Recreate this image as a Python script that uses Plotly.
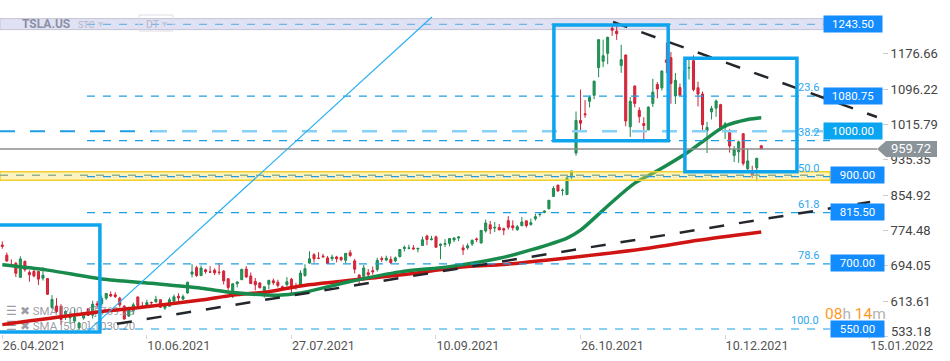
import plotly.graph_objects as go
import pandas as pd

W, H = 950, 361

# ---------------- data ----------------
holidays = ["2021-05-31", "2021-07-05", "2021-09-06", "2021-11-25"]
dates = [d for d in pd.bdate_range("2021-04-26", "2021-12-22")
         if d.strftime("%Y-%m-%d") not in holidays]

opens = [741.00, 717.96, 696.41, 699.51, 667.59,
         703.80, 678.94, 681.06, 680.76, 665.80, 664.90, 599.24, 602.49, 601.54, 583.41, 575.55, 568.00, 552.55, 575.00, 596.11, 581.60, 607.31, 607.56, 620.24, 628.50,
         627.80, 620.13, 601.80, 579.71, 591.83, 623.01, 602.17, 603.88, 610.23, 612.23, 616.69, 597.54, 601.89, 613.37, 624.48, 618.25, 632.00, 674.99, 689.58, 671.64, 684.65, 679.77,
         683.92, 678.98, 681.71, 664.27, 628.37, 653.18, 662.20, 686.32, 670.75, 658.39, 654.68, 629.89, 651.99, 659.61, 656.44, 646.36, 650.97, 663.40, 647.00, 649.79, 671.76,
         700.00, 719.00, 711.00, 716.00, 711.90, 710.17, 713.99, 712.71, 706.34, 723.71, 705.07, 672.66, 669.75, 678.21, 682.85, 685.44, 710.68, 707.03, 708.31, 705.00, 714.72, 733.00,
         734.08, 734.50, 732.25, 740.00, 761.58, 753.41, 759.60, 740.21, 742.57, 745.00, 752.83, 757.15, 734.56, 734.79, 743.53, 755.00, 745.89, 773.12, 787.20, 779.80, 781.00,
         778.40, 796.50, 784.80, 776.20, 785.46, 796.21, 787.65, 800.93, 810.47, 815.49, 823.73, 851.77, 877.53, 865.35, 856.00, 895.50, 950.53, 1024.69, 1039.66, 1068.31, 1081.86,
         1145.00, 1159.36, 1177.33, 1234.41, 1228.00, 1149.79, 1173.60, 1010.41, 1102.77, 1047.50, 1017.63, 1003.31, 1063.51, 1106.55, 1098.87, 1162.33, 1167.51, 1080.39, 1099.47, 1100.99, 1144.37,
         1160.70, 1099.06, 1084.79, 1001.51, 1044.20, 1052.71, 1060.64, 1008.75, 1001.09, 945.00, 953.21, 994.50, 914.77, 910.70, 916.87, 967.00]
highs = [749.30, 724.00, 708.50, 702.25, 715.47,
         706.00, 683.45, 685.30, 681.02, 690.00, 665.05, 627.10, 620.41, 606.46, 592.87, 589.73, 596.25, 566.21, 588.85, 596.68, 614.48, 613.99, 626.17, 631.13, 635.59,
         633.80, 623.36, 604.55, 600.61, 610.00, 623.09, 611.79, 616.59, 612.56, 625.49, 616.79, 608.50, 621.47, 628.35, 631.39, 628.57, 657.20, 697.62, 693.81, 694.70, 687.51, 692.81,
         687.99, 700.00, 684.00, 665.70, 654.43, 658.91, 687.24, 693.28, 678.61, 666.14, 656.70, 647.20, 662.39, 664.86, 662.17, 648.80, 668.20, 666.50, 654.97, 683.69, 697.53,
         726.94, 722.65, 724.90, 720.95, 716.33, 719.03, 716.59, 715.18, 722.80, 729.90, 709.50, 674.58, 695.77, 686.55, 692.13, 712.13, 715.22, 716.97, 715.40, 715.00, 731.00, 740.39,
         741.99, 740.97, 734.00, 760.20, 764.45, 762.10, 762.61, 744.78, 754.47, 756.86, 758.91, 761.04, 742.00, 744.74, 753.67, 758.20, 774.80, 799.00, 795.64, 793.50, 789.13,
         780.78, 806.97, 797.31, 786.66, 805.00, 796.38, 801.24, 812.32, 815.41, 820.25, 843.21, 875.00, 877.95, 869.49, 900.00, 910.00, 1045.02, 1094.94, 1070.88, 1081.00, 1115.21,
         1208.59, 1208.59, 1215.39, 1243.49, 1239.87, 1197.00, 1174.50, 1078.10, 1104.97, 1054.50, 1031.98, 1057.20, 1119.64, 1112.00, 1138.72, 1201.95, 1180.50, 1132.77, 1108.78, 1142.67, 1168.00,
         1172.84, 1113.00, 1090.58, 1021.64, 1057.67, 1072.38, 1062.49, 1020.98, 1005.00, 966.41, 978.75, 994.98, 960.66, 921.69, 939.50, 968.00]
lows = [732.61, 703.35, 693.60, 668.50, 666.14,
        680.50, 657.70, 667.34, 650.00, 660.22, 627.61, 595.60, 586.77, 559.65, 570.46, 561.20, 563.38, 546.98, 571.07, 580.00, 573.65, 595.71, 601.50, 616.21, 622.38,
        620.55, 599.14, 571.22, 577.20, 582.88, 595.50, 597.63, 600.50, 601.52, 609.18, 598.23, 593.50, 601.34, 611.80, 608.88, 615.50, 630.04, 667.61, 668.70, 670.32, 675.89, 678.14,
        672.80, 673.26, 651.40, 638.32, 620.46, 644.69, 662.16, 666.30, 652.84, 637.88, 642.20, 621.29, 640.50, 650.29, 644.60, 637.30, 647.11, 627.24, 639.40, 648.80, 669.00,
        698.40, 701.01, 708.93, 711.41, 697.63, 705.13, 701.88, 704.21, 699.40, 714.34, 676.40, 648.84, 669.35, 667.59, 673.70, 680.75, 702.64, 704.00, 697.62, 702.10, 712.73, 726.44,
        731.27, 730.54, 724.20, 739.26, 740.77, 751.63, 734.52, 708.85, 736.40, 738.36, 747.61, 750.00, 718.62, 730.44, 739.12, 747.92, 744.56, 769.31, 766.18, 770.68, 775.00,
        763.59, 776.12, 774.20, 773.22, 783.38, 780.91, 785.50, 796.57, 805.78, 813.35, 822.35, 851.47, 862.51, 853.72, 855.50, 890.96, 944.20, 1001.44, 1030.78, 1054.20, 1073.21,
        1123.02, 1146.00, 1152.62, 1217.00, 1208.00, 1133.00, 1011.52, 987.31, 1054.68, 1019.20, 978.60, 1002.18, 1055.50, 1075.02, 1092.70, 1132.43, 1062.70, 1062.00, 1081.00, 1100.19, 1118.00,
        1090.76, 1056.65, 1000.21, 950.50, 1026.81, 1033.00, 1002.36, 982.53, 951.42, 930.00, 928.25, 921.85, 909.04, 893.39, 886.12, 959.00]
closes = [738.20, 704.74, 694.40, 677.00, 709.44,
          684.90, 673.60, 670.94, 663.54, 672.37, 629.04, 617.20, 589.89, 571.69, 589.74, 576.83, 577.87, 563.46, 586.78, 580.88, 606.44, 604.69, 619.13, 630.85, 625.22,
          623.90, 605.12, 572.84, 599.05, 605.13, 603.59, 598.78, 610.12, 609.89, 617.69, 599.36, 604.87, 616.60, 623.31, 620.83, 623.71, 656.57, 679.82, 671.87, 688.72, 680.76, 679.70,
          677.92, 678.90, 659.58, 644.65, 652.81, 656.95, 685.70, 668.54, 653.38, 650.60, 644.22, 646.22, 660.50, 655.29, 649.26, 643.38, 657.62, 644.78, 646.98, 677.35, 687.20,
          709.67, 709.74, 710.92, 714.63, 699.10, 713.76, 709.99, 707.82, 722.25, 717.17, 686.17, 665.71, 688.99, 673.47, 680.26, 706.30, 708.49, 711.20, 701.16, 711.92, 730.91, 735.72,
          734.09, 732.39, 733.57, 752.92, 753.87, 754.86, 736.27, 743.00, 744.49, 755.83, 756.99, 759.49, 730.17, 739.38, 751.94, 753.64, 774.39, 791.36, 777.56, 781.31, 775.48,
          775.22, 781.53, 780.59, 782.75, 793.61, 785.49, 791.94, 805.72, 811.08, 818.32, 843.03, 870.11, 864.27, 865.80, 894.00, 909.68, 1024.86, 1018.43, 1037.86, 1077.04, 1114.00,
          1208.59, 1172.00, 1213.86, 1229.91, 1222.09, 1162.94, 1023.50, 1067.95, 1063.51, 1033.42, 1013.39, 1054.73, 1089.01, 1096.38, 1137.06, 1156.87, 1109.03, 1116.00, 1081.92, 1136.99, 1144.76,
          1095.00, 1084.60, 1014.97, 1009.01, 1051.75, 1068.96, 1003.80, 1017.03, 966.41, 958.51, 975.99, 926.92, 932.57, 899.94, 938.53, 959.72]

# moving averages (bar index, value)
sma50_idx = [0, 10, 22, 33, 44, 51, 61, 66, 77, 88, 99, 110, 117, 125, 128, 134, 140, 145, 152, 156, 160, 165, 168]
sma50_val = [696, 684, 664, 654, 643, 633, 627, 632, 658, 680, 692, 711, 730, 757, 775, 830, 882, 910, 954, 984, 1012, 1027, 1031]
sma200_idx = [0, 22, 29, 44, 51, 59, 66, 88, 103, 110, 117, 128, 143, 154, 168]
sma200_val = [560, 590, 597, 616, 627, 635, 648, 673, 692, 696, 703, 715, 734, 752, 771]

tick_labels = ["26.04.2021", "10.06.2021", "27.07.2021", "10.09.2021", "26.10.2021", "10.12.2021", "15.01.2022"]
tick_idx = [0, 32, 64, 96, 128, 160, 192]
ytick_vals = [533.18, 613.61, 694.05, 774.48, 854.92, 935.35, 1015.79, 1096.22, 1176.66]

last_price = 959.72
fib_high, fib_low = 1243.50, 550.00
fib_pcts = [0, 23.6, 38.2, 50.0, 61.8, 78.6, 100.0]
level_labels = [1243.50, 1080.75, 1000.00, 900.00, 815.50, 700.00, 550.00]

# drawings (bar index, price)
trend_up = ([25.4, 192.1], [561.8, 839.3])
trend_down = ([135.2, 193.6], [1248.7, 1032.5])
diag_line = ([19.0, 95.1], [545.7, 1260.0])
boxes = [(-2.0, 21.6, 543.0, 786.7), (122.1, 147.4, 978.6, 1241.9), (151.1, 175.9, 908.0, 1166.1)]
sma_legend = ["SMA [200, 0] 769.29", "SMA [50, 0] 1030.20"]

# ---------------- scales ----------------
X_RANGE = [-0.509, 209.78]
Y_RANGE = [477.2, 1298.8]
PPU = H / (Y_RANGE[1] - Y_RANGE[0])          # pixels per price unit
DX = W / (X_RANGE[1] - X_RANGE[0])           # pixels per bar


def xpx(px):   # pixel -> bar index
    return X_RANGE[0] + px / DX


def ypx(py):   # pixel -> price
    return Y_RANGE[1] - py / PPU


FONT = "Roboto"
TICKFONT = dict(family=FONT, size=13, color="#444444")
idx = list(range(len(dates)))

fig = go.Figure()

# legend text (drawn beneath candles)
fig.add_trace(go.Scatter(
    x=[xpx(6), xpx(6)], y=[ypx(312), ypx(327)], mode="text",
    text=["☰ ✖ " + sma_legend[0], "☰ ✖ " + sma_legend[1]],
    textposition="middle right",
    textfont=dict(family=FONT, size=11.5, color="rgba(140,140,150,0.85)"),
    hoverinfo="skip"))

fig.add_trace(go.Candlestick(
    x=idx, open=opens, high=highs, low=lows, close=closes,
    increasing=dict(line=dict(color="#1e8a50", width=1), fillcolor="#25995b"),
    decreasing=dict(line=dict(color="#cf2236", width=1), fillcolor="#d92b3f"),
    whiskerwidth=0, hoverinfo="skip"))

fig.add_trace(go.Scatter(x=sma200_idx, y=sma200_val, mode="lines",
                         line=dict(color="#d01414", width=3.5, shape="spline", smoothing=0.8),
                         hoverinfo="skip"))
fig.add_trace(go.Scatter(x=sma50_idx, y=sma50_val, mode="lines",
                         line=dict(color="#178a4c", width=3.5, shape="spline", smoothing=0.8),
                         hoverinfo="skip"))

shapes = []
# top band (all time high)
shapes.append(dict(type="rect", xref="paper", yref="y", x0=0, x1=823 / W,
                   y0=fib_high - 5.3 / PPU, y1=fib_high + 5.7 / PPU,
                   fillcolor="rgba(215,215,240,0.75)", line=dict(color="#c4c4d6", width=1), layer="below"))
# yellow support band
shapes.append(dict(type="rect", xref="paper", yref="y", x0=0, x1=830 / W,
                   y0=900 - 5.0 / PPU, y1=900 + 3.6 / PPU,
                   fillcolor="rgba(255,226,90,0.38)", line=dict(color="#f4cf2a", width=1.5)))
shapes.append(dict(type="line", xref="paper", yref="y", x0=0, x1=830 / W, y0=900, y1=900,
                   line=dict(color="#93ad8e", width=1.5, dash="8px,8px")))
# fib levels
fib_x0 = xpx(87)
fib_x1 = xpx(830)
for p in fib_pcts:
    v = fib_high - p / 100 * (fib_high - fib_low)
    col = "#6fb6ec" if p == 0 else "#1d9fe6"
    shapes.append(dict(type="line", xref="x", yref="y", x0=fib_x0, x1=fib_x1, y0=v, y1=v,
                       line=dict(color=col, width=1.2, dash="8px,8px")))
# 1000 level
shapes.append(dict(type="line", xref="x", yref="y", x0=xpx(0), x1=xpx(152), y0=1000, y1=1000,
                   line=dict(color="#1d9fe6", width=2, dash="15px,15px")))
shapes.append(dict(type="line", xref="x", yref="y", x0=xpx(152), x1=xpx(823), y0=1000, y1=1000,
                   line=dict(color="#86cff5", width=2.5, dash="15px,15px")))
# current price line
shapes.append(dict(type="line", xref="paper", yref="y", x0=0, x1=877 / W, y0=last_price, y1=last_price,
                   line=dict(color="#8c8c8c", width=1.5)))
# trend lines
for (xs, ys) in (trend_up, trend_down):
    shapes.append(dict(type="line", xref="x", yref="y", x0=xs[0], x1=xs[1], y0=ys[0], y1=ys[1],
                       line=dict(color="#23262b", width=2.5, dash="15px,15px")))
shapes.append(dict(type="line", xref="x", yref="y", x0=diag_line[0][0], x1=diag_line[0][1],
                   y0=diag_line[1][0], y1=diag_line[1][1], line=dict(color="#2bb0f2", width=1.2)))
# boxes
for (bx0, bx1, by0, by1) in boxes:
    shapes.append(dict(type="rect", xref="x", yref="y", x0=bx0, x1=bx1, y0=by0, y1=by1,
                       line=dict(color="#0ea5ee", width=3.5), fillcolor="rgba(0,0,0,0)"))
# last price arrow label
hh = 8 / PPU
shapes.append(dict(type="path", xref="paper", yref="y",
                   path=f"M {877 / W},{last_price} L {886 / W},{last_price + hh} L {937 / W},{last_price + hh} "
                        f"L {937 / W},{last_price - hh} L {886 / W},{last_price - hh} Z",
                   fillcolor="#8a9499", line=dict(width=0)))
# DT button
shapes.append(dict(type="rect", xref="paper", yref="paper", x0=139 / W, x1=173 / W,
                   y0=1 - 31 / H, y1=1 - 15 / H, line=dict(color="#dcdce6", width=1),
                   fillcolor="rgba(255,255,255,0)"))

ann = []
# level label boxes
for v in level_labels:
    short = v < 950
    x0 = 830 if short else 823
    wdt = 51 if short else 56
    col = "#0aa5f0" if v == 1000 else "#128cff"
    ann.append(dict(xref="paper", yref="y", x=x0 / W, y=v, xanchor="left", yanchor="middle",
                    text=f"{v:.2f}", showarrow=False, width=wdt, height=14, bgcolor=col,
                    font=dict(family=FONT, size=11.5, color="white")))
# fib labels
for p in fib_pcts[1:]:
    v = fib_high - p / 100 * (fib_high - fib_low)
    ann.append(dict(xref="paper", yref="y", x=821 / W, y=v, xanchor="right", yanchor="bottom",
                    text=f"{p:.1f}", showarrow=False, yshift=0,
                    font=dict(family=FONT, size=11, color="#2aa7ef")))
# lowest price-scale label is nudged up inside the pane (as in the original)
ann.append(dict(xref="paper", yref="y", x=889 / W, y=ytick_vals[0], xanchor="left", yanchor="middle",
                yshift=5, text=f"{ytick_vals[0]:.2f}", showarrow=False, font=TICKFONT))
# last price text
ann.append(dict(xref="paper", yref="y", x=911 / W, y=last_price, xanchor="center", yanchor="middle",
                text=f"{last_price:.2f}", showarrow=False,
                font=dict(family=FONT, size=13, color="white")))
# countdown
ann.append(dict(xref="paper", yref="paper", x=823 / W, y=1 - 314 / H, xanchor="left", yanchor="middle",
                text='<span style="color:#ff9a1f">08</span><span style="color:#b4b4b4">h</span> '
                     '<span style="color:#ff9a1f">14</span><span style="color:#b4b4b4">m</span>',
                showarrow=False, font=dict(family=FONT, size=15.5)))
# header
ann.append(dict(xref="paper", yref="paper", x=20 / W, y=1 - 24 / H, xanchor="left", yanchor="middle",
                text="<b>TSLA.US</b>", showarrow=False, font=dict(family=FONT, size=12, color="#8c90a4")))
ann.append(dict(xref="paper", yref="paper", x=76 / W, y=1 - 25 / H, xanchor="left", yanchor="middle",
                text="STC", showarrow=False, font=dict(family=FONT, size=9, color="#b3b7c7")))
ann.append(dict(xref="paper", yref="paper", x=96 / W, y=1 - 23 / H, xanchor="left", yanchor="middle",
                text="▾", showarrow=False, font=dict(family=FONT, size=10, color="#c6c9d6")))
ann.append(dict(xref="paper", yref="paper", x=144 / W, y=1 - 24 / H, xanchor="left", yanchor="middle",
                text="DT", showarrow=False, font=dict(family=FONT, size=10.5, color="#b3b7c7")))
ann.append(dict(xref="paper", yref="paper", x=160 / W, y=1 - 23 / H, xanchor="left", yanchor="middle",
                text="▾", showarrow=False, font=dict(family=FONT, size=10, color="#c6c9d6")))

fig.update_layout(
    width=W, height=H, margin=dict(l=0, r=0, t=0, b=0),
    template="none", paper_bgcolor="white", plot_bgcolor="white",
    showlegend=False, boxgap=0.35, shapes=shapes, annotations=ann,
    xaxis=dict(range=X_RANGE, domain=[0, 1], anchor="free", position=(H - 334) / H,
               showgrid=False, zeroline=False, showline=False, automargin=False,
               ticks="outside", ticklen=4, tickcolor="#d4d4d4",
               tickvals=tick_idx, ticktext=tick_labels, ticklabelposition="outside right",
               tickfont=dict(family=FONT, size=12.5, color="#555555"),
               rangeslider=dict(visible=False), fixedrange=True),
    yaxis=dict(range=Y_RANGE, domain=[0, 1], anchor="free", position=882 / W, side="right",
               showgrid=False, zeroline=False, showline=False, automargin=False,
               ticks="outside", ticklen=5, tickcolor="#cccccc",
               tickvals=ytick_vals, ticktext=[""] + [f"{v:.2f}" for v in ytick_vals[1:]],
               tickfont=TICKFONT, fixedrange=True),
)

fig.write_html("out.html", config={"displayModeBar": False},
               post_script="document.body.style.margin='0';document.body.style.overflow='hidden';")
